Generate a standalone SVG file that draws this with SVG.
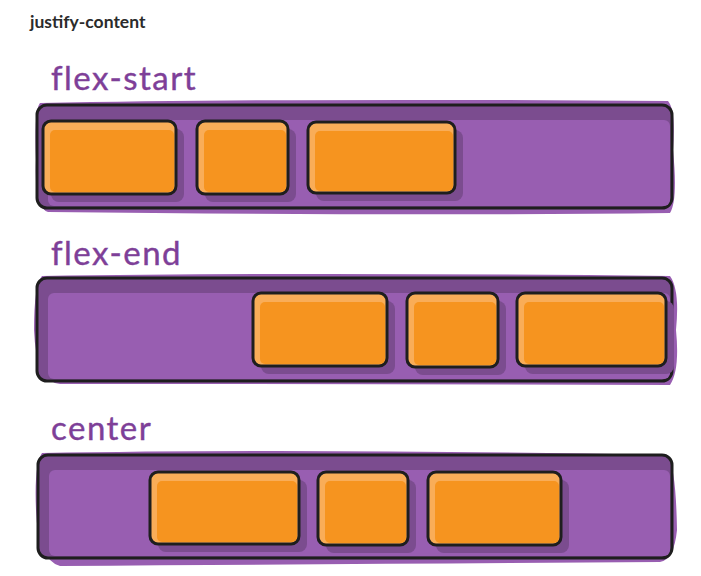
<svg xmlns="http://www.w3.org/2000/svg" width="701" height="576" viewBox="0 0 701 576">
<style>
.title{font-family:Lato,"Liberation Sans",sans-serif;font-weight:bold;font-size:17.5px;fill:#2b2b2b}
.lbl{font-family:Lato,"Open Sans",sans-serif;font-size:33px;fill:#7e3f98;stroke:#7e3f98;stroke-width:0.4;letter-spacing:1.5px}
.wash{fill:#985eb1}
.bar{fill:#7b4c8f;stroke:#1e1e1e;stroke-width:3}
.barin{fill:#985eb1}
.shadow{fill:#7b4c8f}
.box{fill:#f9ad58;stroke:#1e1e1e;stroke-width:3}
.boxin{fill:#f6941f}
</style>
<rect width="701" height="576" fill="#ffffff"/>
<text class="title" x="30" y="28">justify-content</text>

<g id="row-flex-start">
<text class="lbl" x="51" y="90">flex-start</text>
<g id="container-flex-start">
<path class="wash" d="M40 103 Q300 98 668 101 Q676 110 673 150 Q678 200 670 213 Q400 216 48 212 Q34 208 36 160 Q34 110 40 103 Z"/>
<rect class="bar" x="37" y="105" width="635" height="103" rx="10"/>
<rect class="barin" x="48" y="120" width="622" height="86" rx="6"/>
</g>
<g id="item-fs-1"><rect class="shadow" x="51" y="129" width="133" height="73" rx="8"/><rect class="box" x="43" y="121" width="133" height="73" rx="8"/><rect class="boxin" x="50" y="130" width="124" height="62" rx="5"/></g>
<g id="item-fs-2"><rect class="shadow" x="205" y="129" width="91" height="73" rx="8"/><rect class="box" x="197" y="121" width="91" height="73" rx="8"/><rect class="boxin" x="204" y="130" width="82" height="62" rx="5"/></g>
<g id="item-fs-3"><rect class="shadow" x="316" y="130" width="147" height="71" rx="8"/><rect class="box" x="308" y="122" width="147" height="71" rx="8"/><rect class="boxin" x="315" y="131" width="138" height="60" rx="5"/></g>
</g>

<g id="row-flex-end">
<text class="lbl" x="51" y="265">flex-end</text>
<g id="container-flex-end">
<path class="wash" d="M42 276 Q300 272 670 276 Q680 290 676 330 Q680 370 670 385 Q400 384 60 384 Q36 382 34 330 Q34 285 42 276 Z"/>
<rect class="bar" x="37" y="278" width="635" height="103" rx="10"/>
<rect class="barin" x="48" y="293" width="622" height="86" rx="6"/>
</g>
<g id="item-fe-1"><rect class="shadow" x="261" y="301" width="134" height="73" rx="8"/><rect class="box" x="253" y="293" width="134" height="73" rx="8"/><rect class="boxin" x="260" y="302" width="125" height="62" rx="5"/></g>
<g id="item-fe-2"><rect class="shadow" x="415" y="301" width="91" height="74" rx="8"/><rect class="box" x="407" y="293" width="91" height="74" rx="8"/><rect class="boxin" x="414" y="302" width="82" height="63" rx="5"/></g>
<g id="item-fe-3"><rect class="shadow" x="525" y="301" width="149" height="73" rx="8"/><rect class="box" x="517" y="293" width="149" height="73" rx="8"/><rect class="boxin" x="524" y="302" width="140" height="62" rx="5"/></g>
</g>

<g id="row-center">
<text class="lbl" x="51" y="440">center</text>
<g id="container-center">
<path class="wash" d="M42 453 Q300 448 668 455 Q676 470 677 530 Q674 560 660 562 Q400 564 60 566 Q38 560 36 510 Q34 465 42 453 Z"/>
<rect class="bar" x="38" y="455" width="634" height="103" rx="10"/>
<rect class="barin" x="49" y="470" width="621" height="86" rx="6"/>
</g>
<g id="item-c-1"><rect class="shadow" x="158" y="480" width="149" height="72" rx="8"/><rect class="box" x="150" y="472" width="149" height="72" rx="8"/><rect class="boxin" x="157" y="481" width="140" height="61" rx="5"/></g>
<g id="item-c-2"><rect class="shadow" x="326" y="480" width="90" height="73" rx="8"/><rect class="box" x="318" y="472" width="90" height="73" rx="8"/><rect class="boxin" x="325" y="481" width="81" height="62" rx="5"/></g>
<g id="item-c-3"><rect class="shadow" x="436" y="480" width="133" height="73" rx="8"/><rect class="box" x="428" y="472" width="133" height="73" rx="8"/><rect class="boxin" x="435" y="481" width="124" height="62" rx="5"/></g>
</g>
</svg>
